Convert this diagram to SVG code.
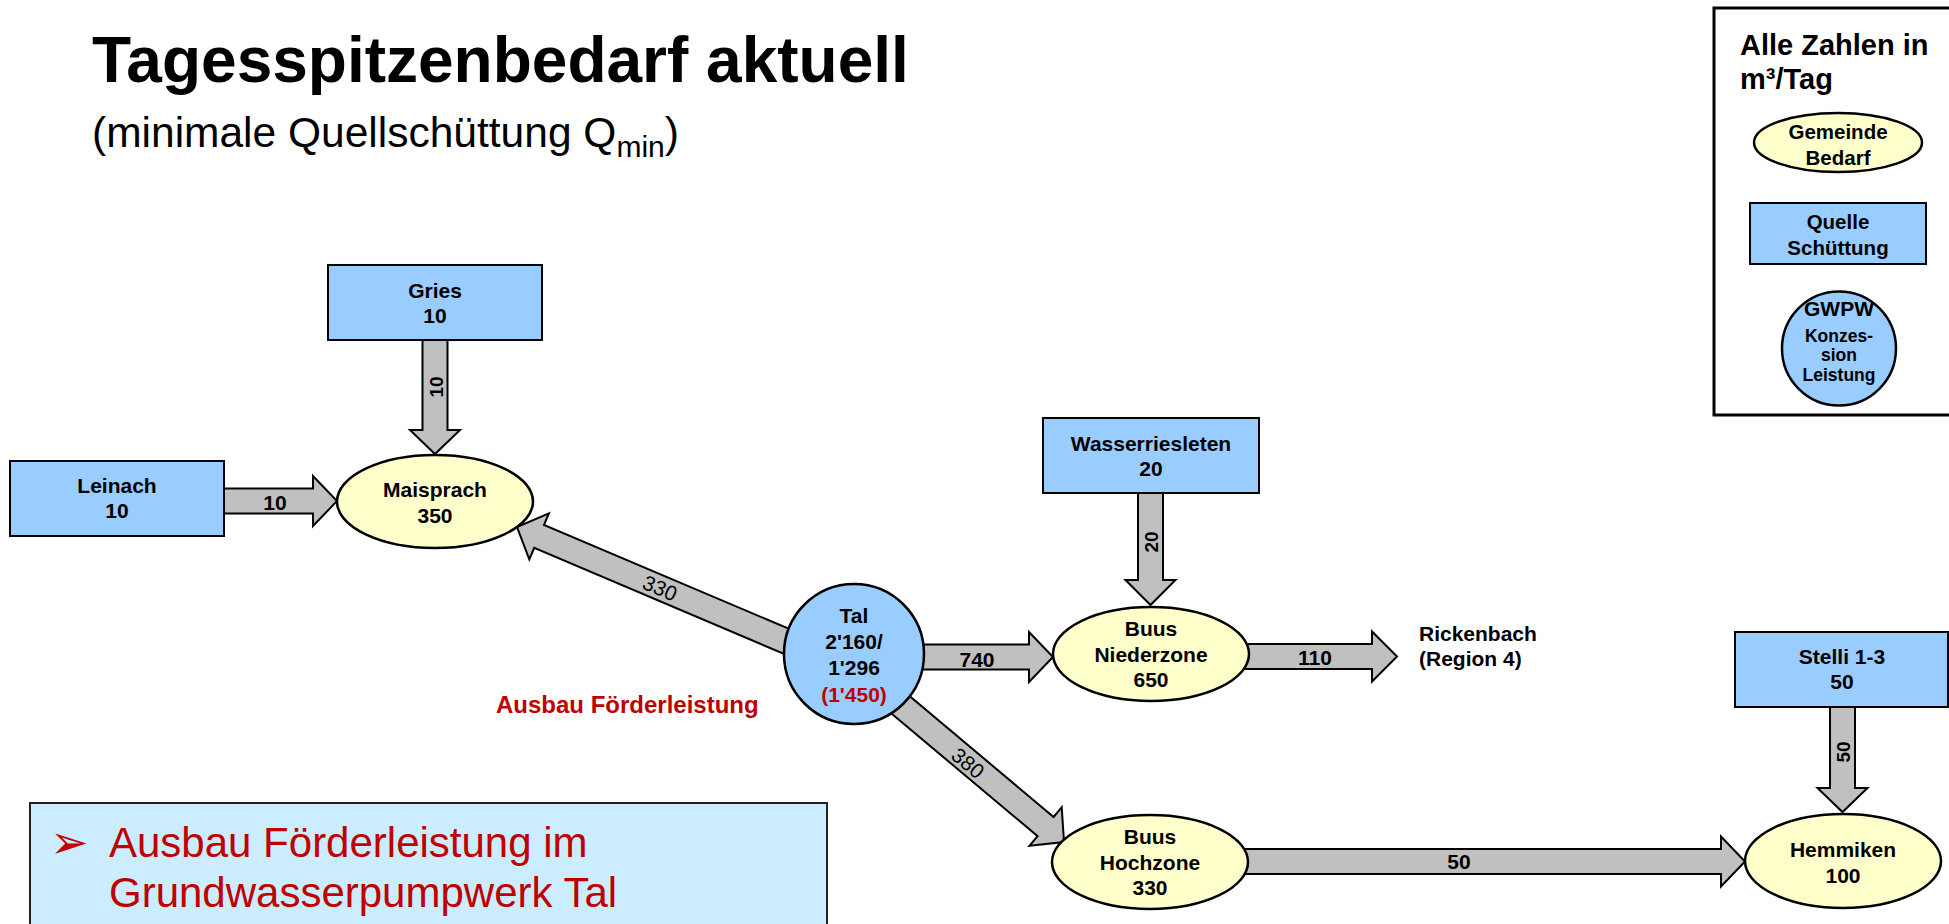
<svg xmlns="http://www.w3.org/2000/svg" width="1949" height="924" viewBox="0 0 1949 924">
  <style>
    .txt { font-family: "Liberation Sans", Arial, sans-serif; fill: #000; }
    .b { font-weight: bold; }
    .c { text-anchor: middle; }
    .node { font-size: 21px; }
    .red { fill: #C00000; }
    .src { fill: #99CCFF; stroke: #000; stroke-width: 2; }
    .dem { fill: #FFFFCC; stroke: #000; stroke-width: 2.5; }
    .gwpw { fill: #99CCFF; stroke: #000; stroke-width: 2.5; }
    .flow { fill: #C0C0C0; stroke: #000; stroke-width: 2; stroke-linejoin: miter; }
    .lbl { font-size: 21px; font-weight: bold; text-anchor: middle; }
    .vlbl { font-size: 19px; font-weight: bold; text-anchor: middle; }
    .slbl { font-size: 21px; text-anchor: middle; }
  </style>

  <rect width="1949" height="924" fill="#fff"/>

  <!-- heading -->
  <g id="title">
    <text class="txt b" x="92" y="82" font-size="64">Tagesspitzenbedarf aktuell</text>
    <text class="txt" x="92" y="147" font-size="42.5">(minimale Quellschüttung Q<tspan font-size="30" dy="10">min</tspan><tspan dy="-10">)</tspan></text>
  </g>

  <!-- key -->
  <g id="legend">
    <rect x="1714" y="8" width="250" height="407" fill="#fff" stroke="#000" stroke-width="3"/>
    <text class="txt b" x="1740" y="55" font-size="29">Alle Zahlen in</text>
    <text class="txt b" x="1740" y="89" font-size="29">m³/Tag</text>
    <ellipse class="dem" cx="1838" cy="142.5" rx="84" ry="29.5"/>
    <text class="txt b c" x="1838" y="139" font-size="20.5">Gemeinde</text>
    <text class="txt b c" x="1838" y="165" font-size="20.5">Bedarf</text>
    <rect class="src" x="1750" y="203" width="176" height="61"/>
    <text class="txt b c" x="1838" y="229" font-size="20.5">Quelle</text>
    <text class="txt b c" x="1838" y="255" font-size="20.5">Schüttung</text>
    <circle class="gwpw" cx="1839" cy="348.5" r="57"/>
    <text class="txt b c" x="1839" y="316" font-size="21">GWPW</text>
    <text class="txt b c" x="1839" y="342" font-size="17.5">Konzes-</text>
    <text class="txt b c" x="1839" y="361" font-size="17.5">sion</text>
    <text class="txt b c" x="1839" y="381" font-size="17.5">Leistung</text>
  </g>

  <!-- flows between sources, pump station and municipalities -->
  <g id="connectors">
    <polygon class="flow" points="222,488.5 313,488.5 313,476 337,501 313,526 313,513.5 222,513.5"/>
    <polygon class="flow" points="422.5,339 422.5,430 410,430 435,454 460,430 447.5,430 447.5,339"/>
    <polygon class="flow" points="798.1,632.7 544,524.9 548.9,513.4 517,527 529.3,559.4 534.2,547.9 788.3,655.7"/>
    <polygon class="flow" points="915,644.5 1029,644.5 1029,632 1053,657 1029,682 1029,669.5 915,669.5"/>
    <polygon class="flow" points="856.8,684.4 1037.6,836.2 1029.5,845.7 1064,842 1061.7,807.4 1053.6,817 872.8,665.2"/>
    <polygon class="flow" points="1242,644 1372,644 1372,631.5 1397,656.5 1372,681.5 1372,669 1242,669"/>
    <polygon class="flow" points="1138,491 1138,580 1125.5,580 1150.5,605 1175.5,580 1163,580 1163,491"/>
    <polygon class="flow" points="1244,849 1721,849 1721,836.5 1745,861.5 1721,886.5 1721,874 1244,874"/>
    <polygon class="flow" points="1830,705 1830,788 1817.5,788 1842.5,812 1867.5,788 1855,788 1855,705"/>

    <text class="txt lbl" x="275" y="510">10</text>
    <text class="txt vlbl" transform="translate(436,387) rotate(-90)" y="7">10</text>
    <text class="txt slbl" transform="translate(660,588) rotate(23)" y="7.5">330</text>
    <text class="txt lbl" x="977" y="667">740</text>
    <text class="txt slbl" transform="translate(968,763) rotate(40)" y="7.5">380</text>
    <text class="txt vlbl" transform="translate(1151,542) rotate(-90)" y="7">20</text>
    <text class="txt lbl" x="1315" y="665">110</text>
    <text class="txt lbl" x="1459" y="869">50</text>
    <text class="txt vlbl" transform="translate(1843,752) rotate(-90)" y="7">50</text>
  </g>

  <!-- sources -->
  <g id="leinach">
    <rect class="src" x="10" y="461" width="214" height="75"/>
    <text class="txt b c node" x="117" y="493">Leinach</text>
    <text class="txt b c node" x="117" y="518">10</text>
  </g>
  <g id="gries">
    <rect class="src" x="328" y="265" width="214" height="75"/>
    <text class="txt b c node" x="435" y="298">Gries</text>
    <text class="txt b c node" x="435" y="323">10</text>
  </g>
  <g id="wasserriesleten">
    <rect class="src" x="1043" y="418" width="216" height="75"/>
    <text class="txt b c node" x="1151" y="451">Wasserriesleten</text>
    <text class="txt b c node" x="1151" y="476">20</text>
  </g>
  <g id="stelli">
    <rect class="src" x="1735" y="632" width="213" height="75"/>
    <text class="txt b c node" x="1842" y="664">Stelli 1-3</text>
    <text class="txt b c node" x="1842" y="689">50</text>
  </g>

  <!-- groundwater pump station -->
  <g id="tal">
    <circle class="gwpw" cx="854" cy="654" r="70"/>
    <text class="txt b c node" x="854" y="623">Tal</text>
    <text class="txt b c node" x="854" y="649">2'160/</text>
    <text class="txt b c node" x="854" y="675">1'296</text>
    <text class="txt b c node red" x="854" y="702">(1'450)</text>
  </g>

  <!-- municipalities -->
  <g id="maisprach">
    <ellipse class="dem" cx="435" cy="501.5" rx="98" ry="46.5"/>
    <text class="txt b c node" x="435" y="497">Maisprach</text>
    <text class="txt b c node" x="435" y="523">350</text>
  </g>
  <g id="buus-niederzone">
    <ellipse class="dem" cx="1151" cy="654" rx="98" ry="47"/>
    <text class="txt b c node" x="1151" y="636">Buus</text>
    <text class="txt b c node" x="1151" y="662">Niederzone</text>
    <text class="txt b c node" x="1151" y="687">650</text>
  </g>
  <g id="buus-hochzone">
    <ellipse class="dem" cx="1150" cy="862" rx="98" ry="47"/>
    <text class="txt b c node" x="1150" y="844">Buus</text>
    <text class="txt b c node" x="1150" y="870">Hochzone</text>
    <text class="txt b c node" x="1150" y="895">330</text>
  </g>
  <g id="hemmiken">
    <ellipse class="dem" cx="1843" cy="861" rx="98" ry="47"/>
    <text class="txt b c node" x="1843" y="857">Hemmiken</text>
    <text class="txt b c node" x="1843" y="883">100</text>
  </g>

  <g id="rickenbach">
    <text class="txt b node" x="1419" y="641">Rickenbach</text>
    <text class="txt b node" x="1419" y="666">(Region 4)</text>
  </g>

  <g id="ausbau-label">
    <text class="txt b red" x="496" y="713" font-size="24">Ausbau Förderleistung</text>
  </g>

  <!-- note box -->
  <g id="note">
    <rect x="30" y="803" width="797" height="140" fill="#CCECFF" stroke="#222" stroke-width="2"/>
    <text class="red" x="50" y="858" font-size="46" font-family="DejaVu Sans, sans-serif">➢</text>
    <text class="txt red" x="109" y="857" font-size="42">Ausbau Förderleistung im</text>
    <text class="txt red" x="109" y="907" font-size="42">Grundwasserpumpwerk Tal</text>
  </g>
</svg>
